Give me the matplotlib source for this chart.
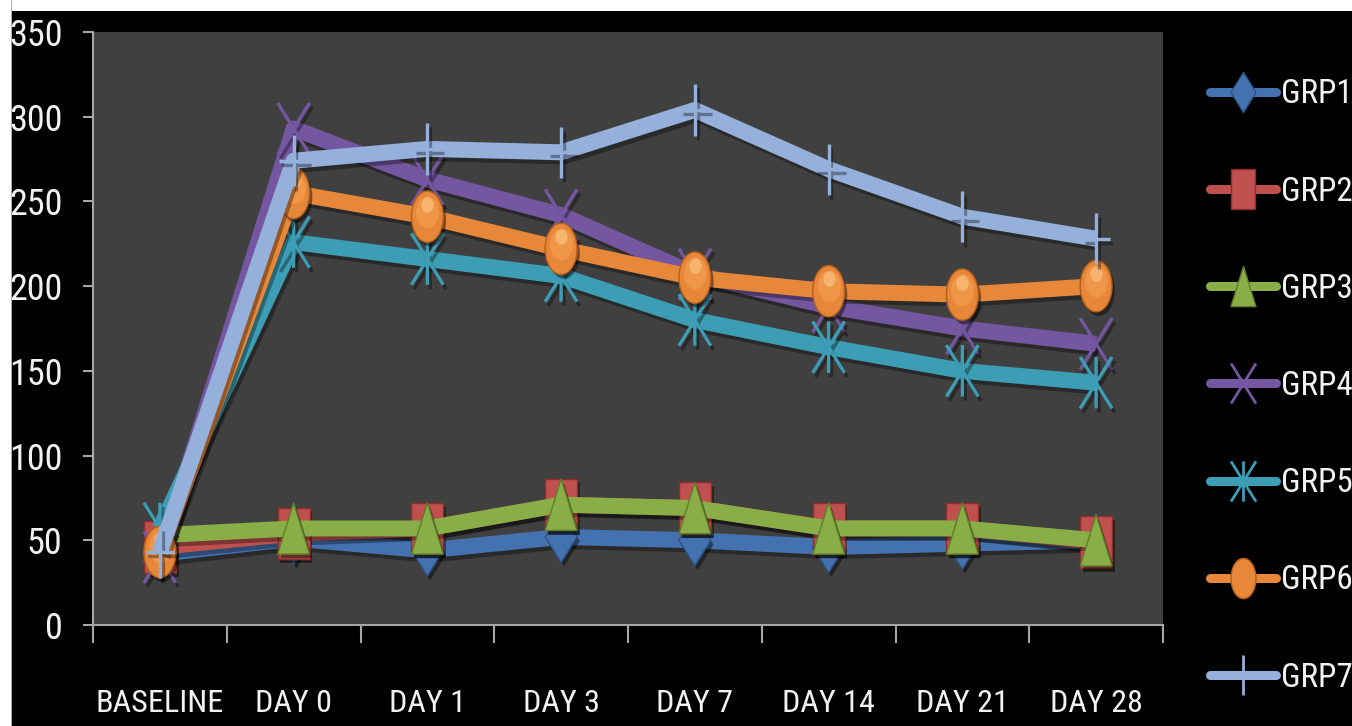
import matplotlib.pyplot as plt
import matplotlib.patheffects as pe
import numpy as np
from matplotlib import font_manager as fm
from matplotlib.lines import Line2D
from matplotlib.markers import MarkerStyle
from matplotlib.path import Path
from matplotlib.patches import Rectangle
from matplotlib.textpath import TextPath
from matplotlib.transforms import Affine2D

# Group means per time point
days = ["BASELINE", "DAY 0", "DAY 1", "DAY 3", "DAY 7", "DAY 14", "DAY 21", "DAY 28"]
grp1 = [42, 51, 44, 52, 50, 46, 48, 50]
grp2 = [46, 54, 57, 71, 69, 57, 57, 49]
grp3 = [53, 57, 57, 71, 69, 57, 57, 50]
grp4 = [40, 293, 263, 242, 207, 188, 175, 166]
grp5 = [57, 226, 216, 206, 180, 164, 150, 143]
grp6 = [43, 255, 241, 222, 205, 197, 195, 200]
grp7 = [43, 274, 281, 279, 304, 269, 241, 228]
groups = ["GRP1", "GRP2", "GRP3", "GRP4", "GRP5", "GRP6", "GRP7"]
series = [grp1, grp2, grp3, grp4, grp5, grp6, grp7]
colors = ["#4472b0", "#c0504d", "#8aae47", "#7556a0", "#3c9db5", "#e6873a", "#95b0da"]
edge_colors = ["#2c5282", "#8c2f2c", "#5f7d2c", "#7556a0", "#3c9db5", "#b45f1a", "#95b0da"]

DPI = 100


def pick_family():
    # prefer a narrow face for the labels
    for fam in ["Liberation Sans Narrow", "Roboto Condensed", "Open Sans Condensed",
                "DejaVu Sans Condensed", "Noto Sans Condensed"]:
        try:
            fm.findfont(fm.FontProperties(family=fam), fallback_to_default=False)
            return fam
        except ValueError:
            pass
    for fam in ["DejaVu Sans", "Noto Sans", "Open Sans", "Roboto", "Liberation Sans"]:
        try:
            path = fm.findfont(fm.FontProperties(family=fam, stretch="condensed"),
                               fallback_to_default=False)
        except ValueError:
            continue
        if "ondensed" in path or "arrow" in path:
            return fam
    return "Liberation Sans"


family = pick_family()
plt.rcParams["font.family"] = [family, "DejaVu Sans"]
plt.rcParams["font.stretch"] = "condensed"
base_prop = fm.FontProperties(family=family, stretch="condensed")


def fit_size(text, width_px, cap_px):
    # font size (pt) giving roughly the wanted width, capped by letter height
    w = TextPath((0, 0), text, size=100, prop=base_prop).get_extents().width
    h = TextPath((0, 0), "H", size=100, prop=base_prop).get_extents().height
    s_w = width_px * 72 / DPI / w * 100
    s_h = cap_px * 72 / DPI / h * 100
    return min(s_w, s_h)


ytick_size = fit_size("350", 50, 37)
xtick_size = fit_size("BASELINE", 124, 37)
legend_size = fit_size("GRP1", 64, 29)

# tall, narrow marker shapes
W = 0.62
t = np.linspace(0, 2 * np.pi, 40)
diamond = Path([(0, 0.5), (W / 2, 0), (0, -0.5), (-W / 2, 0), (0, 0.5)], closed=True)
square = Path([(-W / 2, -0.5), (W / 2, -0.5), (W / 2, 0.5), (-W / 2, 0.5), (-W / 2, -0.5)], closed=True)
triangle = Path([(0, 0.5), (W / 2, -0.5), (-W / 2, -0.5), (0, 0.5)], closed=True)
ellipse = Path(np.column_stack([W / 2 * np.cos(t), 0.5 * np.sin(t)]), closed=True)
M, L = Path.MOVETO, Path.LINETO
cross = Path([(-W / 2, -0.5), (W / 2, 0.5), (-W / 2, 0.5), (W / 2, -0.5)], [M, L, M, L])
star = Path([(-W / 2, -0.5), (W / 2, 0.5), (-W / 2, 0.5), (W / 2, -0.5), (0, -0.5), (0, 0.5)],
            [M, L, M, L, M, L])
plus = Path([(0, -0.5), (0, 0.5), (-W * 0.45, 0), (W * 0.45, 0)], [M, L, M, L])
markers = [diamond, square, triangle, cross, star, ellipse, plus]
filled = [True, True, True, False, False, True, False]

# glossy spot on the upper half of the orange ellipses
glow_outer = MarkerStyle(ellipse, transform=Affine2D().scale(0.72, 0.62).translate(0, 0.1))
glow_inner = MarkerStyle(ellipse, transform=Affine2D().scale(0.38, 0.3).translate(0, 0.24))

fig = plt.figure(figsize=(13.52, 7.26), dpi=DPI, facecolor="white")
# black chart background with a thin white margin top and left
fig.patches.append(Rectangle((12 / 1352, 0), 1, 1 - 11 / 726, transform=fig.transFigure,
                             facecolor="black", edgecolor="none", zorder=-10))
fig.patches.append(Rectangle((11 / 1352, 0), 1.2 / 1352, 1, transform=fig.transFigure,
                             facecolor="#b0b0b0", edgecolor="none", zorder=-9))

ax = fig.add_axes([93 / 1352, 1 - 625 / 726, (1163 - 93) / 1352, (625 - 32) / 726])
ax.set_facecolor("#404040")

x = np.arange(len(days))
line_shadow = [pe.SimpleLineShadow(offset=(2, -3), shadow_color="black", alpha=0.35), pe.Normal()]
patch_shadow = [pe.SimplePatchShadow(offset=(2, -3), shadow_rgbFace="black", alpha=0.45), pe.Normal()]

handles = []
for i, (vals, name) in enumerate(zip(series, groups)):
    z = 3 + 3 * i
    ax.plot(x, vals, color=colors[i], lw=11.5, solid_joinstyle="round", solid_capstyle="butt",
            zorder=z, path_effects=line_shadow)
    if filled[i]:
        ax.plot(x, vals, ls="none", marker=markers[i], ms=37, mfc=colors[i],
                mec=edge_colors[i], mew=1.0, zorder=z + 1, path_effects=patch_shadow)
    else:
        ax.plot(x, vals, ls="none", marker=markers[i], ms=37, mfc="none",
                mec=colors[i], mew=2.4, zorder=z + 1, path_effects=line_shadow)
    if markers[i] is ellipse:
        ax.plot(x, vals, ls="none", marker=glow_outer, ms=37, mfc="#f59d4f", mec="none",
                alpha=0.7, zorder=z + 2)
        ax.plot(x, vals, ls="none", marker=glow_inner, ms=37, mfc="#fcc98a", mec="none",
                alpha=0.6, zorder=z + 2)
    handles.append(Line2D([], [], color=colors[i], lw=6.5, solid_capstyle="round",
                          marker=markers[i], ms=29,
                          mfc=colors[i] if filled[i] else "none",
                          mec=edge_colors[i] if filled[i] else colors[i],
                          mew=1.0 if filled[i] else 2.0))

ax.set_xlim(-0.5, len(days) - 0.5)
ax.set_ylim(0, 350)
ax.set_yticks(np.arange(0, 351, 50))
ax.set_xticks(np.arange(-0.5, len(days), 1.0))
ax.set_xticklabels([])
ax.set_xticks(x, minor=True)
ax.set_xticklabels(days, minor=True)

for side in ["top", "right"]:
    ax.spines[side].set_visible(False)
for side in ["left", "bottom"]:
    ax.spines[side].set_color("#a6a6a6")
    ax.spines[side].set_linewidth(1.5)

ax.tick_params(axis="y", which="major", length=7, width=1.5, color="#a6a6a6",
               labelcolor="#f2f2f2", labelsize=ytick_size, pad=15)
ax.tick_params(axis="x", which="major", length=13, width=1.5, color="#a6a6a6")
ax.tick_params(axis="x", which="minor", length=0, labelcolor="#f2f2f2",
               labelsize=xtick_size, pad=46)
ax.grid(False)

# rows about 96 px apart
font_px = legend_size * DPI / 72
spacing = max(0.2, (105 - 1.2 * font_px) / font_px)
leg = fig.legend(handles, groups, loc="center left",
                 bbox_to_anchor=(1210 / 1352, 1 - 386 / 726),
                 frameon=False, fontsize=legend_size, labelcolor="#f2f2f2",
                 handlelength=66 / font_px, handletextpad=5 / font_px,
                 labelspacing=spacing, borderpad=0, borderaxespad=0)

fig.savefig("out.png", dpi=DPI, facecolor=fig.get_facecolor())
